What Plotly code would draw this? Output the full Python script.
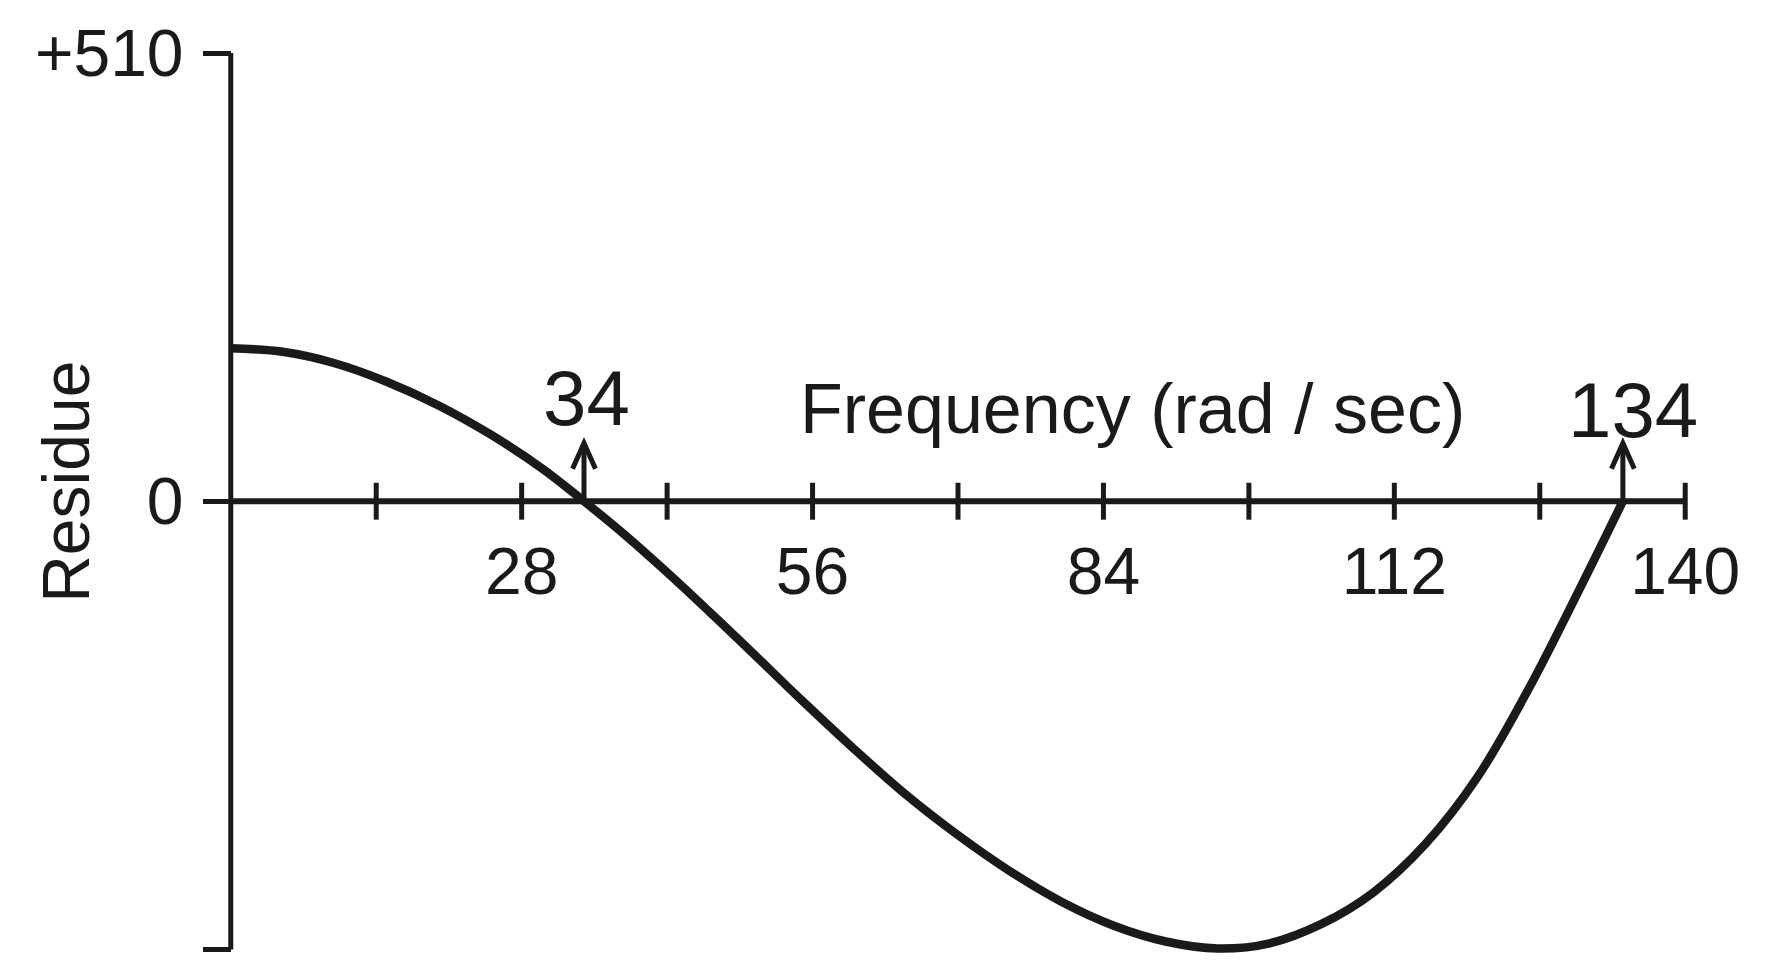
import plotly.graph_objects as go

# Residue of the fitted model versus frequency
freq = [0, 5, 10, 15, 20, 25, 30, 34, 38, 42, 46, 50, 55, 60, 65, 70, 75,
        80, 85, 90, 95, 100, 105, 110, 115, 120, 125, 130, 134]
residue = [174, 170, 157, 136, 109, 76, 37, 0, -39, -81, -125, -170, -227,
           -282, -334, -380, -421, -456, -483, -501, -509, -503, -481, -445,
           -390, -314, -212, -96, 0]

# Axis definitions
x_axis_span = [0, 140]
x_view = [-2, 142]
x_minor_ticks = [14, 28, 42, 56, 70, 84, 98, 112, 126, 140]
x_label_ticks = [28, 56, 84, 112, 140]
y_tick_vals = [-510, 0, 510]
y_tick_text = ["\u2212510", "0", "+510"]
y_view = [-530, 510]

# Marked zero crossings
crossings = [34, 134]

INK = "#1a1a1a"
FONT = "Liberation Sans"

fig = go.Figure()

fig.add_trace(go.Scatter(
    x=freq, y=residue, mode="lines",
    line=dict(color=INK, width=8.5, shape="spline", smoothing=1.0),
    hoverinfo="skip", showlegend=False,
))

shapes = []
# vertical axis line
shapes.append(dict(type="line", xref="x", yref="y", x0=0, x1=0,
                   y0=y_tick_vals[0], y1=y_tick_vals[-1],
                   line=dict(color=INK, width=5)))
# frequency axis along zero
shapes.append(dict(type="line", xref="x", yref="y",
                   x0=x_axis_span[0], x1=x_axis_span[1],
                   y0=0, y1=0, line=dict(color=INK, width=6)))
# tick marks crossing the frequency axis
for t in x_minor_ticks:
    shapes.append(dict(type="line", xref="x", yref="y", x0=t, x1=t,
                       y0=-21, y1=21, line=dict(color=INK, width=5)))
# upward arrows at the zero crossings
for c in crossings:
    shapes.append(dict(type="line", xref="x", yref="y", x0=c, x1=c,
                       y0=0, y1=64, line=dict(color=INK, width=5)))
    shapes.append(dict(type="path", xref="x", yref="y",
                       path=f"M {c-1.1},37 L {c},66 L {c+1.1},37",
                       line=dict(color=INK, width=5)))

annotations = [
    dict(x=34.2, y=118, xref="x", yref="y", text="34", showarrow=False,
         font=dict(family=FONT, size=78, color=INK),
         xanchor="center", yanchor="middle"),
    dict(x=135.0, y=104, xref="x", yref="y", text="134", showarrow=False,
         font=dict(family=FONT, size=78, color=INK),
         xanchor="center", yanchor="middle"),
    dict(x=86.8, y=105, xref="x", yref="y", text="Frequency (rad / sec)",
         showarrow=False, font=dict(family=FONT, size=70, color=INK),
         xanchor="center", yanchor="middle"),
    dict(x=-0.0963, y=22, xref="paper", yref="y", text="Residue",
         showarrow=False, textangle=-90,
         font=dict(family=FONT, size=66, color=INK),
         xanchor="center", yanchor="middle"),
]

# place each axis where the other one is zero
x_zero_pos = (0 - y_view[0]) / (y_view[1] - y_view[0])
y_zero_pos = (0 - x_view[0]) / (x_view[1] - x_view[0])

fig.update_layout(
    width=1771, height=969,
    margin=dict(l=210, r=65, t=53, b=2, pad=0),
    paper_bgcolor="white", plot_bgcolor="white",
    shapes=shapes, annotations=annotations,
    font=dict(family=FONT, color=INK),
    xaxis=dict(range=x_view, tickvals=x_label_ticks,
               ticktext=[str(v) for v in x_label_ticks],
               showgrid=False, zeroline=False, showline=False,
               ticks="", anchor="free", position=x_zero_pos,
               ticklabelstandoff=26,
               tickfont=dict(family=FONT, size=66, color=INK)),
    yaxis=dict(range=y_view, tickvals=y_tick_vals, ticktext=y_tick_text,
               showgrid=False, zeroline=False, showline=False,
               anchor="free", position=y_zero_pos,
               ticks="outside", ticklen=28, tickwidth=5, tickcolor=INK,
               ticklabelstandoff=6,
               tickfont=dict(family=FONT, size=66, color=INK)),
)

fig.write_html("out.html")
